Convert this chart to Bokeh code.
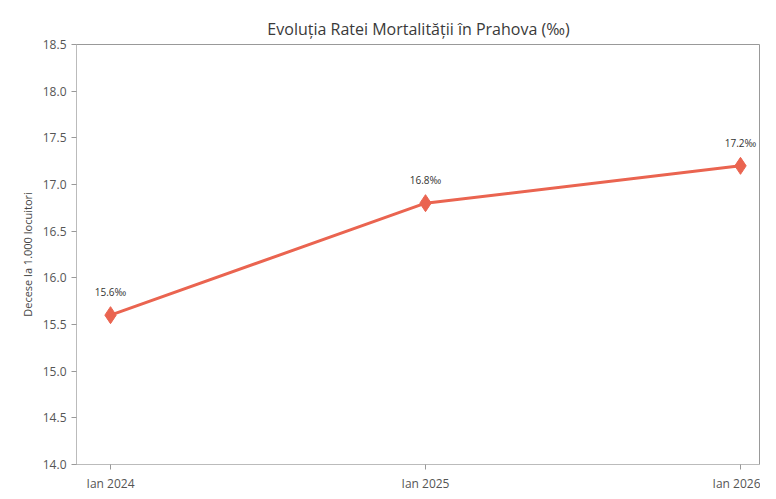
from bokeh.plotting import figure
from bokeh.models import ColumnDataSource, FixedTicker, Range1d, NumeralTickFormatter
from bokeh.embed import file_html
from bokeh.resources import INLINE
from bokeh.core.properties import value

periods = ["Ian 2024", "Ian 2025", "Ian 2026"]
rates = [15.6, 16.8, 17.2]
labels = ["15.6‰", "16.8‰", "17.2‰"]
y_ticks = [14.0, 14.5, 15.0, 15.5, 16.0, 16.5, 17.0, 17.5, 18.0, 18.5]

xs = list(range(len(periods)))
src = ColumnDataSource(dict(x=xs, y=rates, lab=labels))

FONT = "Open Sans"
p = figure(frame_width=684, frame_height=420, output_backend="svg", toolbar_location=None,
           x_range=Range1d(-0.108, 2.0635), y_range=Range1d(14.0, 18.5),
           title="Evoluția Ratei Mortalității în Prahova (‰)",
           min_border_left=76, min_border_right=0, min_border_top=44, min_border_bottom=19)
p.title.align = "center"
p.title.text_font = FONT
p.title.text_font_size = "16px"
p.title.text_font_style = "normal"
p.title.text_color = "#3a3a3a"

p.line("x", "y", source=src, line_color="#ea6450", line_width=3)
p.scatter("x", "y", source=src, marker="diamond", size=17, fill_color="#ea6450",
          line_color="#ea6450")
p.text("x", "y", text="lab", source=src, y_offset=-16, text_align="center",
       text_baseline="bottom", text_font=value(FONT), text_font_size="10px",
       text_color="#333333")

p.xaxis.ticker = FixedTicker(ticks=xs)
p.xaxis.major_label_overrides = {i: s for i, s in enumerate(periods)}
p.yaxis.ticker = FixedTicker(ticks=y_ticks)
p.yaxis.formatter = NumeralTickFormatter(format="0.0")
p.yaxis.axis_label = "Decese la 1.000 locuitori"
for ax in (p.xaxis, p.yaxis):
    ax.major_label_text_font = FONT
    ax.major_label_text_font_size = "12px"
    ax.major_label_text_color = "#555555"
    ax.axis_line_color = "#bbbbbb"
    ax.major_tick_line_color = "#999999"
    ax.major_tick_in = 0
    ax.major_tick_out = 5
    ax.minor_tick_line_color = None
p.yaxis.axis_label_text_font = FONT
p.yaxis.axis_label_text_font_size = "11px"
p.yaxis.axis_label_text_font_style = "normal"
p.yaxis.axis_label_text_color = "#444444"
p.xgrid.grid_line_color = None
p.ygrid.grid_line_color = None
p.outline_line_color = "#999999"
p.outline_line_width = 1

open("out.html", "w").write(file_html(p, INLINE))
